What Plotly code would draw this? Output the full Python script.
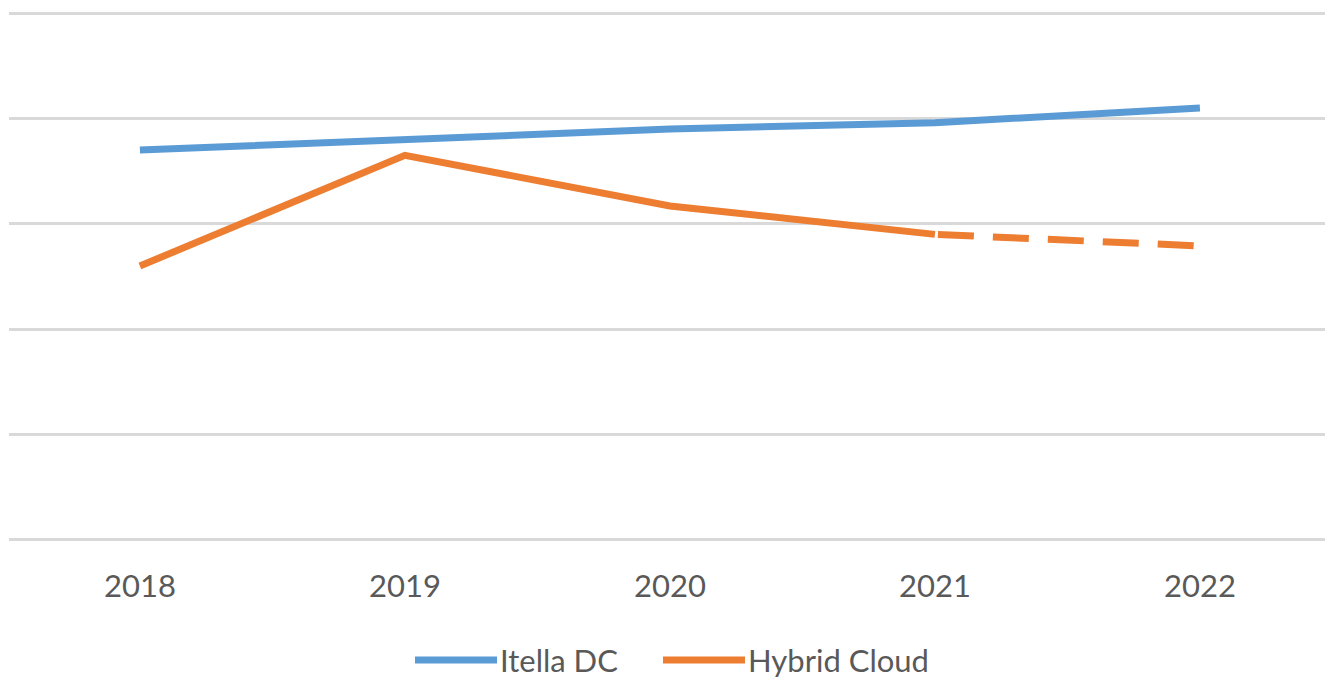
import plotly.graph_objects as go

years = ["2018", "2019", "2020", "2021", "2022"]
itella_dc = [3.70, 3.80, 3.90, 3.96, 4.10]
hybrid_cloud = [2.60, 3.65, 3.17, 2.90, 2.79]
forecast_start = 3  # index from which Hybrid Cloud is dashed

BLUE = "#5B9BD5"
ORANGE = "#ED7D31"
FONT = "Lato"
TEXT = "#595959"

# figure geometry (page body margin removed via post_script)
W, H = 1325, 679
L, R, T, B = 9, 0, 10, 136
plot_w = W - L - R
plot_h = H - T - B


def px(fx):
    return (fx - L) / plot_w


def py(fy):
    return (H - B - fy) / plot_h


fig = go.Figure()
fig.add_trace(go.Scatter(x=years, y=itella_dc, mode="lines", name="Itella DC",
                         line=dict(color=BLUE, width=7), showlegend=False))
fig.add_trace(go.Scatter(x=years[:forecast_start + 1], y=hybrid_cloud[:forecast_start + 1],
                         mode="lines", name="Hybrid Cloud",
                         line=dict(color=ORANGE, width=7), showlegend=False))
fig.add_trace(go.Scatter(x=years[forecast_start:], y=hybrid_cloud[forecast_start:],
                         mode="lines", name="Hybrid Cloud (forecast)",
                         line=dict(color=ORANGE, width=7, dash="0px,3px,36px,16px"),
                         showlegend=False))

# custom legend
legend_items = [("Itella DC", BLUE, 415), ("Hybrid Cloud", ORANGE, 663)]
legend_y = 660
shapes = []
annotations = []
for label, color, x0 in legend_items:
    shapes.append(dict(type="line", xref="paper", yref="paper",
                       x0=px(x0), x1=px(x0 + 82), y0=py(legend_y), y1=py(legend_y),
                       line=dict(color=color, width=7)))
    annotations.append(dict(text=label, xref="paper", yref="paper",
                            x=px(x0 + 84), y=py(legend_y),
                            xanchor="left", yanchor="middle", showarrow=False,
                            borderpad=0,
                            font=dict(family=FONT, size=31, color=TEXT)))

fig.update_layout(
    width=W, height=H,
    margin=dict(l=L, r=R, t=T, b=B),
    paper_bgcolor="white", plot_bgcolor="white",
    xaxis=dict(type="category", range=[-0.494, 4.472], showgrid=False, zeroline=False,
               showline=False, ticks="", tickfont=dict(family=FONT, size=31, color=TEXT),
               ticklabelstandoff=22),
    yaxis=dict(range=[-0.03, 5.03], tickvals=[0, 1, 2, 3, 4, 5], showticklabels=False,
               gridcolor="#D9D9D9", gridwidth=3, zeroline=False, showline=False),
    shapes=shapes, annotations=annotations,
)
fig.write_html("out.html", config={"displayModeBar": False},
               post_script="document.body.style.margin='0';document.body.style.overflow='hidden';")
